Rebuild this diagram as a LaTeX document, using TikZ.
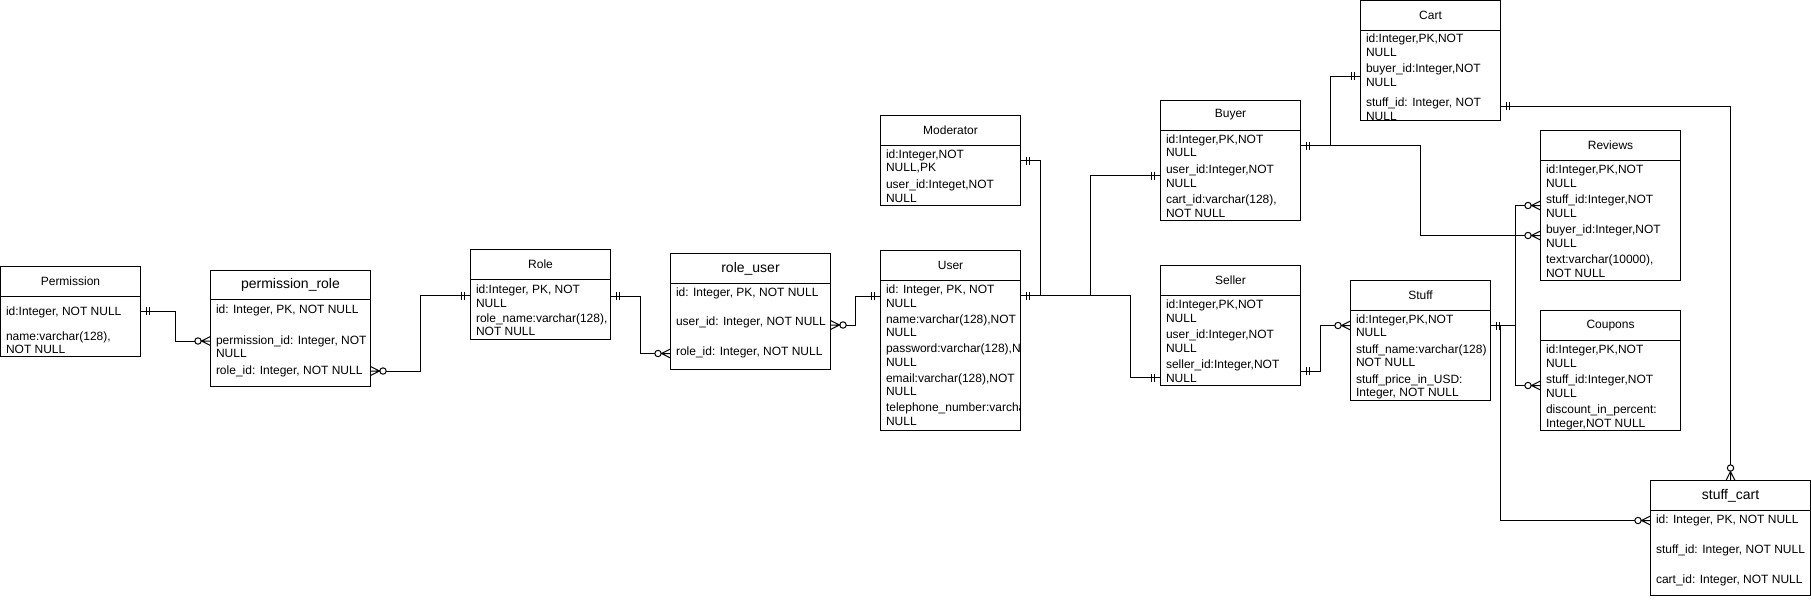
\documentclass[tikz,border=0pt]{standalone}
\usepackage{fontspec}
\setmainfont{Liberation Sans}
\usetikzlibrary{positioning, arrows.meta}

% mandatory one: two bars at the table side
\pgfdeclarearrow{
  name = mone,
  parameters = {\the\pgflinewidth},
  setup code = {
    \pgfarrowssettipend{0pt}
    \pgfarrowssetlineend{0pt}
    \pgfarrowssetbackend{-10pt}
    \pgfarrowssetvisualbackend{-10pt}
    \pgfarrowshullpoint{0pt}{4pt}
    \pgfarrowshullpoint{-10pt}{-4pt}
  },
  drawing code = {
    \pgfpathmoveto{\pgfqpoint{-6pt}{4pt}}
    \pgfpathlineto{\pgfqpoint{-6pt}{-4pt}}
    \pgfpathmoveto{\pgfqpoint{-9pt}{4pt}}
    \pgfpathlineto{\pgfqpoint{-9pt}{-4pt}}
    \pgfusepathqstroke
  }
}
% zero or many: circle and crow's foot
\pgfdeclarearrow{
  name = zmany,
  parameters = {\the\pgflinewidth},
  setup code = {
    \pgfarrowssettipend{0pt}
    \pgfarrowssetlineend{-15.7pt}
    \pgfarrowssetbackend{-16pt}
    \pgfarrowssetvisualbackend{-16pt}
    \pgfarrowshullpoint{0pt}{4.5pt}
    \pgfarrowshullpoint{-16pt}{-4.5pt}
  },
  drawing code = {
    \pgfpathmoveto{\pgfqpoint{0pt}{4.5pt}}
    \pgfpathlineto{\pgfqpoint{-9pt}{0pt}}
    \pgfpathlineto{\pgfqpoint{0pt}{-4.5pt}}
    \pgfpathmoveto{\pgfqpoint{0pt}{0pt}}
    \pgfpathlineto{\pgfqpoint{-9.3pt}{0pt}}
    \pgfpathcircle{\pgfqpoint{-12.5pt}{0pt}}{3.2pt}
    \pgfusepathqstroke
  }
}

\begin{document}
\begin{tikzpicture}[
    x=1pt, y=-1pt,
    line width=1pt,
    tblhead/.style={draw, outer sep=0pt, inner sep=0pt, minimum height=30pt,
        font=\fontsize{12}{14}\selectfont},
    bighead/.style={tblhead, font=\fontsize{14}{16}\selectfont},
    tblbody/.style={draw, outer sep=0pt, inner sep=0pt},
    fieldtxt/.style={align=left, inner sep=0pt, outer sep=0pt,
        font=\fontsize{12}{13.3}\selectfont, execute at begin node=\strut}
]
    \useasboundingbox (0,0) rectangle (1811,600);

    % tables
    \node[tblhead, minimum width=140pt, anchor=north west] (perm) at (0.5,266) {Permission};
    \node[tblbody, minimum width=140pt, minimum height=60pt, below=0pt of perm] (perm-body) {};
    \node[fieldtxt, below right=10.7pt and 5.5pt of perm-body.north west] (perm-txt)
        {id:Integer, NOT NULL\\[11.7pt] name:varchar(128),\\ NOT NULL};

    \node[bighead, minimum width=160pt, minimum height=29pt, anchor=north west] (prole) at (210.5,270.5) {permission\_role};
    \node[tblbody, minimum width=160pt, minimum height=86.5pt, below=0pt of prole] (prole-body) {};
    \node[fieldtxt, below right=5.5pt and 5.5pt of prole-body.north west] (prole-txt)
        {id: Integer, PK, NOT NULL\\[17.4pt] permission\_id: Integer, NOT\\ NULL\\[3pt] role\_id: Integer, NOT NULL};

    \node[tblhead, minimum width=140pt, anchor=north west] (role) at (470.5,249.5) {Role};
    \node[tblbody, minimum width=140pt, minimum height=60pt, below=0pt of role] (role-body) {};
    \node[fieldtxt, below right=5.5pt and 5.5pt of role-body.north west] (role-txt)
        {id:Integer, PK, NOT\\ NULL\\[1.7pt] role\_name:varchar(128),\\ NOT NULL};

    \node[bighead, minimum width=160pt, anchor=north west] (ruser) at (670.5,253.5) {role\_user};
    \node[tblbody, minimum width=160pt, minimum height=86pt, below=0pt of ruser] (ruser-body) {};
    \node[fieldtxt, below right=4.2pt and 5.5pt of ruser-body.north west] (ruser-txt)
        {id: Integer, PK, NOT NULL\\[15.7pt] user\_id: Integer, NOT NULL\\[16.7pt] role\_id: Integer, NOT NULL};

    \node[tblhead, minimum width=140pt, anchor=north west] (mod) at (880.5,115) {Moderator};
    \node[tblbody, minimum width=140pt, minimum height=60pt, below=0pt of mod] (mod-body) {};
    \node[fieldtxt, below right=5pt and 5.5pt of mod-body.north west] (mod-txt)
        {id:Integer,NOT\\ NULL,PK\\[3.4pt] user\_id:Integet,NOT\\ NULL};

    \node[tblhead, minimum width=140pt, anchor=north west] (user) at (880.5,250.5) {User};
    \node[tblbody, minimum width=140pt, minimum height=150pt, below=0pt of user] (user-body) {};
    \begin{scope}
        \clip (user-body.north west) rectangle (user-body.south east);
        \node[fieldtxt, below right=4.5pt and 5.5pt of user-body.north west] (user-txt)
            {id: Integer, PK, NOT\\ NULL\\[2.9pt] name:varchar(128),NOT\\ NULL\\[2.9pt]
             password:varchar(128),NOT\\ NULL\\[2.9pt] email:varchar(128),NOT\\ NULL\\[2.9pt]
             telephone\_number:varchar(128),NOT\\ NULL};
    \end{scope}

    \node[tblhead, minimum width=140pt, anchor=north west] (buyer) at (1160.5,100) {Buyer};
    \node[tblbody, minimum width=140pt, minimum height=90pt, below=0pt of buyer] (buyer-body) {};
    \node[fieldtxt, below right=5pt and 5.5pt of buyer-body.north west] (buyer-txt)
        {id:Integer,PK,NOT\\ NULL\\[3.4pt] user\_id:Integer,NOT\\ NULL\\[3.4pt] cart\_id:varchar(128),\\ NOT NULL};

    \node[tblhead, minimum width=140pt, anchor=north west] (cart) at (1360.5,0.5) {Cart};
    \node[tblbody, minimum width=140pt, minimum height=90pt, below=0pt of cart] (cart-body) {};
    \node[fieldtxt, below right=3.8pt and 5.5pt of cart-body.north west] (cart-txt)
        {id:Integer,PK,NOT\\ NULL\\[3.4pt] buyer\_id:Integer,NOT\\ NULL\\[7.4pt] stuff\_id: Integer, NOT\\ NULL};

    \node[tblhead, minimum width=140pt, anchor=north west] (seller) at (1160.5,265.5) {Seller};
    \node[tblbody, minimum width=140pt, minimum height=90pt, below=0pt of seller] (seller-body) {};
    \node[fieldtxt, below right=4.5pt and 5.5pt of seller-body.north west] (seller-txt)
        {id:Integer,PK,NOT\\ NULL\\[3.4pt] user\_id:Integer,NOT\\ NULL\\[3.4pt] seller\_id:Integer,NOT\\ NULL};

    \node[tblhead, minimum width=140pt, anchor=north west] (stuff) at (1350.5,280.5) {Stuff};
    \node[tblbody, minimum width=140pt, minimum height=90pt, below=0pt of stuff] (stuff-body) {};
    \node[fieldtxt, below right=3.8pt and 5.5pt of stuff-body.north west] (stuff-txt)
        {id:Integer,PK,NOT\\ NULL\\[3.4pt] stuff\_name:varchar(128)\\ NOT NULL\\[3.4pt] stuff\_price\_in\_USD:\\ Integer, NOT NULL};

    \node[tblhead, minimum width=140pt, anchor=north west] (rev) at (1540.5,130.5) {Reviews};
    \node[tblbody, minimum width=140pt, minimum height=120pt, below=0pt of rev] (rev-body) {};
    \node[fieldtxt, below right=4.5pt and 5.5pt of rev-body.north west] (rev-txt)
        {id:Integer,PK,NOT\\ NULL\\[3.4pt] stuff\_id:Integer,NOT\\ NULL\\[3.4pt] buyer\_id:Integer,NOT\\ NULL\\[3.4pt] text:varchar(10000),\\ NOT NULL};

    \node[tblhead, minimum width=140pt, anchor=north west] (coup) at (1540.5,310.5) {Coupons};
    \node[tblbody, minimum width=140pt, minimum height=90pt, below=0pt of coup] (coup-body) {};
    \node[fieldtxt, below right=4.5pt and 5.5pt of coup-body.north west] (coup-txt)
        {id:Integer,PK,NOT\\ NULL\\[3.4pt] stuff\_id:Integer,NOT\\ NULL\\[3.4pt] discount\_in\_percent:\\ Integer,NOT NULL};

    \node[bighead, minimum width=160pt, anchor=north west] (scart) at (1650.5,480.5) {stuff\_cart};
    \node[tblbody, minimum width=160pt, minimum height=85pt, below=0pt of scart] (scart-body) {};
    \node[fieldtxt, below right=4.5pt and 5.5pt of scart-body.north west] (scart-txt)
        {id: Integer, PK, NOT NULL\\[16.7pt] stuff\_id: Integer, NOT NULL\\[16.7pt] cart\_id: Integer, NOT NULL};

    % attachment points
    \coordinate (perm-a) at ([yshift=-15pt]perm-body.north east);
    \coordinate (prole-a) at ([yshift=-41.5pt]prole-body.north west);
    \coordinate (prole-b) at ([yshift=-71.5pt]prole-body.north east);
    \coordinate (role-a) at ([yshift=-16pt]role-body.north west);
    \coordinate (role-b) at ([yshift=-16.5pt]role-body.north east);
    \coordinate (ruser-a) at ([yshift=-70pt]ruser-body.north west);
    \coordinate (ruser-b) at ([yshift=-41.5pt]ruser-body.north east);
    \coordinate (user-a) at ([yshift=-15.5pt]user-body.north west);
    \coordinate (user-b) at ([yshift=-15pt]user-body.north east);
    \coordinate (mod-a) at ([yshift=-15.5pt]mod-body.north east);
    \coordinate (buyer-a) at ([yshift=-45.5pt]buyer-body.north west);
    \coordinate (buyer-b) at ([yshift=-15.5pt]buyer-body.north east);
    \coordinate (seller-a) at ([yshift=-82pt]seller-body.north west);
    \coordinate (seller-b) at ([yshift=-75.5pt]seller-body.north east);
    \coordinate (cart-a) at ([yshift=-45.5pt]cart-body.north west);
    \coordinate (cart-b) at ([yshift=-75.5pt]cart-body.north east);
    \coordinate (stuff-a) at ([yshift=-15pt]stuff-body.north west);
    \coordinate (stuff-b) at ([yshift=-15pt]stuff-body.north east);
    \coordinate (rev-a) at ([yshift=-45pt]rev-body.north west);
    \coordinate (rev-b) at ([yshift=-75pt]rev-body.north west);
    \coordinate (coup-a) at ([yshift=-45pt]coup-body.north west);
    \coordinate (scart-a) at ([yshift=-10pt]scart-body.north west);

    % relations
    \draw[{mone}-{zmany}] (perm-a) -- ++(35,0) |- (prole-a);
    \draw[{zmany}-{mone}] (prole-b) -- ++(50,0) |- (role-a);
    \draw[{mone}-{zmany}] (role-b) -- ++(30,0) |- (ruser-a);
    \draw[{zmany}-{mone}] (ruser-b) -- ++(25,0) |- (user-a);
    \draw[{mone}-{mone}] (user-b) -- ++(20,0) |- (mod-a);
    \draw[{mone}-{mone}] (user-b) -- ++(70,0) |- (buyer-a);
    \draw[{mone}-{mone}] (user-b) -- ++(110,0) |- (seller-a);
    \draw[{mone}-{mone}] (buyer-b) -- ++(30,0) |- (cart-a);
    \draw[{mone}-{zmany}] (buyer-b) -- ++(120,0) |- (rev-b);
    \draw[{mone}-{zmany}] (seller-b) -- ++(20,0) |- (stuff-a);
    \draw[{mone}-{zmany}] (stuff-b) -- ++(25,0) |- (rev-a);
    \draw[{mone}-{zmany}] (stuff-b) -- ++(25,0) |- (coup-a);
    \draw[{mone}-{zmany}] (stuff-b) -- ++(10,0) |- (scart-a);
    \draw[{mone}-{zmany}] (cart-b) -| (scart.north);
\end{tikzpicture}
\end{document}
